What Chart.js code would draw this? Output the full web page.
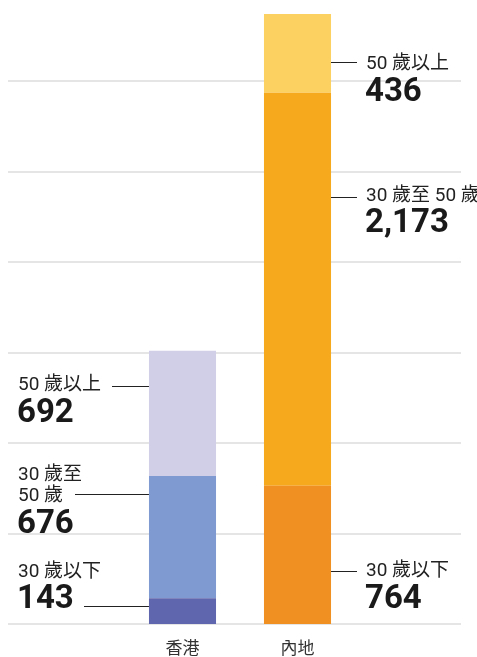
<!DOCTYPE html>
<html>
<head>
<meta charset="utf-8">
<script src="https://cdn.jsdelivr.net/npm/chart.js@4"></script>
<style>
  html, body { margin: 0; padding: 0; background: #fff; }
  #wrap { width: 477px; height: 657px; }
</style>
</head>
<body>
<div id="wrap"><canvas id="chart" width="477" height="657"></canvas></div>
<script>
// Data
const categories = ['香港', '內地'];
const under30 = [143, 764];
const age30to50 = [676, 2173];
const over50 = [692, 436];
const gridValues = [0, 500, 1000, 1500, 2000, 2500, 3000];

const FONT = "Roboto, 'Noto Sans CJK TC', sans-serif";

// colours per bar (香港, 內地)
const colUnder30 = ['#6066ad', '#f09022'];
const col30to50 = ['#7f9ad0', '#f7a91e'];
const colOver50 = ['#d0cfe7', '#fdd062'];

// label layout: ds = dataset index, bar = category index
// texts = [string, y centre], num y, leader line y / start x
const notes = [
  { ds: 2, bar: 0, side: 'left', texts: [['50 歲以上', 385]], num: ['692', 414], lineY: 386, lineX: 112 },
  { ds: 1, bar: 0, side: 'left', texts: [['30 歲至', 475], ['50 歲', 496]], num: ['676', 525], lineY: 494, lineX: 75 },
  { ds: 0, bar: 0, side: 'left', texts: [['30 歲以下', 572]], num: ['143', 600], lineY: 606, lineX: 84 },
  { ds: 2, bar: 1, side: 'right', texts: [['50 歲以上', 64]], num: ['436', 93], lineY: 62, lineX: 357 },
  { ds: 1, bar: 1, side: 'right', texts: [['30 歲至 50 歲', 196]], num: ['2,173', 224], lineY: 197, lineX: 357 },
  { ds: 0, bar: 1, side: 'right', texts: [['30 歲以下', 571]], num: ['764', 600], lineY: 571, lineX: 357 },
];

// grid lines across the whole width, behind the bars
const fullGrid = {
  id: 'fullGrid',
  beforeDatasetsDraw(chart) {
    const { ctx, scales: { y } } = chart;
    ctx.save();
    ctx.strokeStyle = '#dddddd';
    ctx.lineWidth = 1.5;
    gridValues.forEach((v) => {
      const py = Math.round(y.getPixelForValue(v));
      ctx.beginPath();
      ctx.moveTo(8, py);
      ctx.lineTo(461, py);
      ctx.stroke();
    });
    ctx.restore();
  },
};

// side labels with leader lines
const sideLabels = {
  id: 'sideLabels',
  afterDatasetsDraw(chart) {
    const ctx = chart.ctx;
    ctx.save();
    notes.forEach((n) => {
      const el = chart.getDatasetMeta(n.ds).data[n.bar];
      const left = el.x - el.width / 2;
      const right = el.x + el.width / 2;
      const textX = n.side === 'left' ? 18 : 366;

      ctx.strokeStyle = '#222';
      ctx.lineWidth = 1;
      ctx.beginPath();
      const ly = Math.round(n.lineY) + 0.5;
      if (n.side === 'left') {
        ctx.moveTo(n.lineX, ly);
        ctx.lineTo(left, ly);
      } else {
        ctx.moveTo(right, ly);
        ctx.lineTo(n.lineX, ly);
      }
      ctx.stroke();

      ctx.textAlign = 'left';
      ctx.textBaseline = 'middle';
      ctx.fillStyle = '#222';
      ctx.font = '19px ' + FONT;
      n.texts.forEach(([t, ty]) => ctx.fillText(t, textX, ty));

      ctx.fillStyle = '#1a1a1a';
      ctx.font = 'bold 33px ' + FONT;
      ctx.fillText(n.num[0], textX - 1, n.num[1]);
    });
    ctx.restore();
  },
};

const totals = categories.map((_, i) => under30[i] + age30to50[i] + over50[i]);

new Chart(document.getElementById('chart'), {
  type: 'bar',
  data: {
    labels: categories,
    datasets: [
      { label: '30 歲以下', data: under30, backgroundColor: colUnder30 },
      { label: '30 歲至 50 歲', data: age30to50, backgroundColor: col30to50 },
      { label: '50 歲以上', data: over50, backgroundColor: colOver50 },
    ],
  },
  options: {
    responsive: false,
    animation: false,
    layout: { padding: { left: 125, right: 122, top: 14, bottom: 0 } },
    datasets: {
      bar: { barPercentage: 0.583, categoryPercentage: 1, borderWidth: 0 },
    },
    plugins: {
      legend: { display: false },
      tooltip: { enabled: false },
    },
    scales: {
      x: {
        stacked: true,
        grid: { display: false, drawTicks: false },
        border: { display: false },
        ticks: { padding: 16, color: '#333', font: { family: FONT, size: 17 } },
        afterFit(scale) { scale.height = 33; },
      },
      y: {
        stacked: true,
        display: false,
        min: 0,
        max: Math.max(...totals),
      },
    },
  },
  plugins: [fullGrid, sideLabels],
});
</script>
</body>
</html>
